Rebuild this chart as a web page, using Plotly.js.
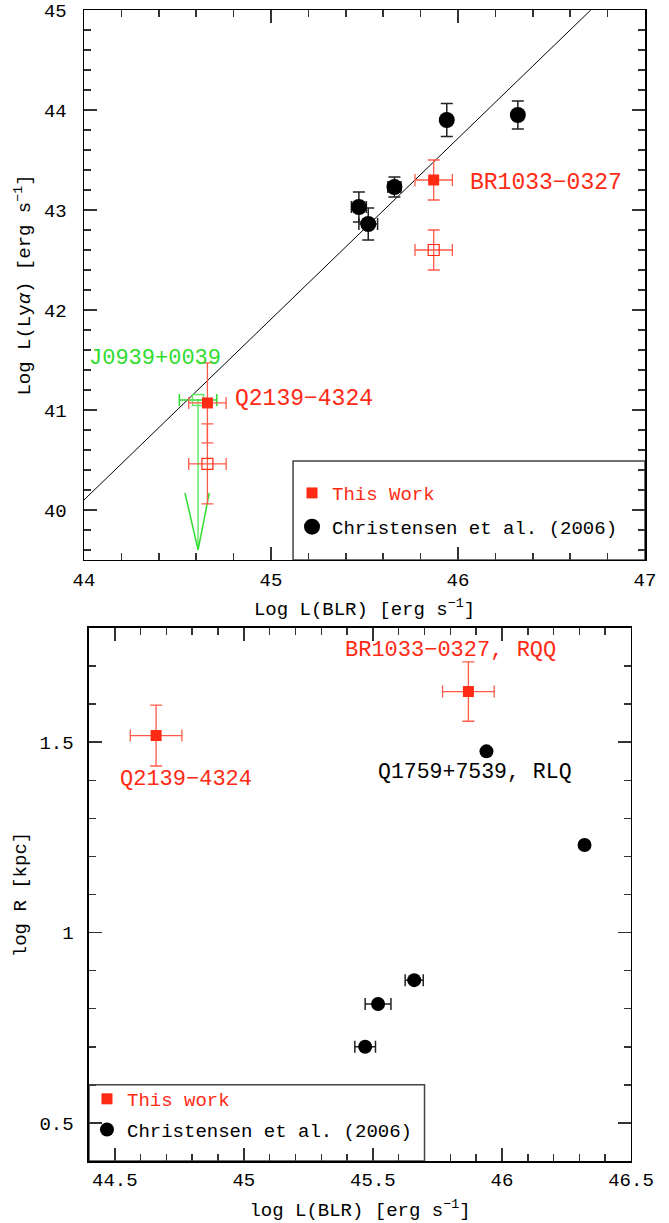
<!DOCTYPE html>
<html>
<head>
<meta charset="utf-8">
<script src="https://cdn.plot.ly/plotly-3.0.1.min.js"></script>
<style>html,body{margin:0;padding:0;background:#fff;}</style>
</head>
<body>
<div id="chart" style="width:669px;height:1223px;"></div>
<script>
// ---------------- data ----------------
// Christensen et al. (2006)
const chrLogLBLR    = [45.47, 45.52, 45.66, 45.94, 46.32];
const chrLogLBLRErr = [0.04, 0.05, 0.035, 0, 0];
const chrLogLLya    = [43.03, 42.86, 43.23, 43.90, 43.95];
const chrLogLLyaErr = [0.15, 0.16, 0.10, 0.165, 0.14];
const chrLogR       = [0.70, 0.8125, 0.875, 1.476, 1.23];

// This work
const thisNames        = ["Q2139−4324", "BR1033−0327"];
const thisLogLBLR      = [44.66, 45.87];
const thisLogLBLRErr   = [0.1, 0.1];
const thisLogLLya      = [41.07, 43.30];
const thisLogLLyaErr   = [0.4, 0.2];
const thisLogLLyaAlt   = [40.46, 42.60];
const thisLogLLyaAltErr= [0.4, 0.2];
const thisLogR         = [1.5175, 1.633];
const thisLogRErr      = [0.08, 0.078];

// Upper limit
const limName      = "J0939+0039";
const limLogLBLR   = [44.61];
const limLogLBLRErr= [0.1];
const limLogLLya   = [41.1];

// Fitted relation (end points)
const fitLogLBLR = [44.0, 46.71];
const fitLogLLya = [40.1, 45.0];

// Radio-loud quasar label
const rlqName = "Q1759+7539, RLQ";

// ---------------- styles ----------------
const FONT = "Liberation Mono, Courier New, monospace";
const RED = "#ff2a14";
const RED_ERR = "#ff5a48";
const GREEN = "#2edc2e";
const GREEN_LIGHT = "#66ea66";
const ARROW_LEN = 1.5, HEAD_L = 0.07, HEAD_R = 0.06, HEAD_H = 0.57;

const limX = limLogLBLR[0], limY = limLogLLya[0], tipY = limY - ARROW_LEN;

const traces = [
  // fit line
  {type:"scatter", mode:"lines", x:fitLogLBLR, y:fitLogLLya, xaxis:"x", yaxis:"y",
   line:{color:"#000", width:1}, showlegend:false, hoverinfo:"skip"},
  // upper-limit arrow shaft
  {type:"scatter", mode:"lines", x:[limX, limX], y:[limY, tipY], xaxis:"x", yaxis:"y",
   line:{color:GREEN_LIGHT, width:1.5}, showlegend:false, hoverinfo:"skip"},
  // arrow head
  {type:"scatter", mode:"lines", x:[limX - HEAD_L, limX, limX + HEAD_R], y:[tipY + HEAD_H, tipY, tipY + HEAD_H],
   xaxis:"x", yaxis:"y", line:{color:GREEN, width:1.5}, showlegend:false, hoverinfo:"skip"},
  // upper-limit point
  {type:"scatter", mode:"markers", x:limLogLBLR, y:limLogLLya, xaxis:"x", yaxis:"y",
   marker:{symbol:"square-open", size:11, color:GREEN_LIGHT, line:{width:1.5}},
   error_x:{type:"data", array:limLogLBLRErr, color:GREEN, thickness:1.5, width:6},
   showlegend:false},
  // this work, open squares
  {type:"scatter", mode:"markers", x:thisLogLBLR, y:thisLogLLyaAlt, xaxis:"x", yaxis:"y",
   marker:{symbol:"square-open", size:11, color:RED, line:{width:1.2}},
   error_x:{type:"data", array:thisLogLBLRErr, color:RED_ERR, thickness:1.3, width:6},
   error_y:{type:"data", array:thisLogLLyaAltErr, color:RED_ERR, thickness:1.3, width:6},
   showlegend:false},
  // this work, filled squares
  {type:"scatter", mode:"markers", x:thisLogLBLR, y:thisLogLLya, xaxis:"x", yaxis:"y",
   name:'<span style="color:' + RED + '">This Work</span>', legend:"legend", legendgroup:"a",
   marker:{symbol:"square", size:11, color:RED},
   error_x:{type:"data", array:thisLogLBLRErr, color:RED_ERR, thickness:1.3, width:6},
   error_y:{type:"data", array:thisLogLLyaErr, color:RED_ERR, thickness:1.3, width:6}},
  // Christensen
  {type:"scatter", mode:"markers", x:chrLogLBLR, y:chrLogLLya, xaxis:"x", yaxis:"y",
   name:"Christensen et al. (2006)", legend:"legend", legendgroup:"b",
   marker:{symbol:"circle", size:16, color:"#000"},
   error_x:{type:"data", array:chrLogLBLRErr, color:"#222", thickness:1.5, width:6},
   error_y:{type:"data", array:chrLogLLyaErr, color:"#222", thickness:1.5, width:6}},

  // ---------- bottom panel ----------
  {type:"scatter", mode:"markers", x:thisLogLBLR, y:thisLogR, xaxis:"x2", yaxis:"y2",
   name:'<span style="color:' + RED + '">This work</span>', legend:"legend2", legendgroup:"c",
   marker:{symbol:"square", size:11, color:RED},
   error_x:{type:"data", array:thisLogLBLRErr, color:RED_ERR, thickness:1.3, width:6},
   error_y:{type:"data", array:thisLogRErr, color:RED_ERR, thickness:1.3, width:6}},
  {type:"scatter", mode:"markers", x:chrLogLBLR, y:chrLogR, xaxis:"x2", yaxis:"y2",
   name:"Christensen et al. (2006)", legend:"legend2", legendgroup:"d",
   marker:{symbol:"circle", size:14, color:"#000"},
   error_x:{type:"data", array:chrLogLBLRErr, color:"#222", thickness:1.5, width:6}}
];

function axisCommon(extra) {
  return Object.assign({
    ticks:"inside", ticklen:13, tickwidth:1.5, tickcolor:"#333",
    showline:true, linecolor:"#000", linewidth:1.5, mirror:"allticks",
    showgrid:false, zeroline:false, tickmode:"linear",
    tickfont:{family:FONT, size:19, color:"#000"},
    automargin:false
  }, extra);
}

const layout = {
  width:669, height:1223,
  margin:{l:84, r:24, t:10, b:62},
  paper_bgcolor:"#fff", plot_bgcolor:"#fff",
  font:{family:FONT, size:19, color:"#000"},
  showlegend:true,
  xaxis: axisCommon({domain:[0,1], anchor:"y", range:[44,47], tick0:44, dtick:1,
    minor:{dtick:0.2, ticklen:7, tickwidth:1.5, tickcolor:"#333", ticks:"inside"},
    ticklabelstandoff:2,
    title:{text:"Log L(BLR) [erg s<sup>−1</sup>]", standoff:10, font:{family:FONT, size:19}}}),
  yaxis: axisCommon({domain:[0.5222,1], anchor:"x", range:[39.5,45], tick0:40, dtick:1,
    minor:{dtick:0.2, ticklen:7, tickwidth:1.5, tickcolor:"#333", ticks:"inside"},
    ticklabelstandoff:12,
    title:{text:"Log L(Ly<i>α</i>) [erg s<sup>−1</sup>]", standoff:8, font:{family:FONT, size:19}}}),
  xaxis2: axisCommon({domain:[0.00891,0.97504], anchor:"y2", range:[44.4,46.5], tick0:44.5, dtick:0.5,
    minor:{dtick:0.1, ticklen:7, tickwidth:1.5, tickcolor:"#333", ticks:"inside"},
    ticklabelstandoff:1,
    title:{text:"log L(BLR) [erg s<sup>−1</sup>]", standoff:11, font:{family:FONT, size:19}}}),
  yaxis2: axisCommon({domain:[0,0.4631], anchor:"x2", range:[0.4,1.8], tick0:0.5, dtick:0.5,
    minor:{dtick:0.1, ticklen:7, tickwidth:1.5, tickcolor:"#333", ticks:"inside"},
    ticklabelstandoff:10,
    title:{text:"log R [kpc]", standoff:8, font:{family:FONT, size:19}}}),
  legend:{x:0.3708, y:0.5968, xanchor:"left", yanchor:"top", bgcolor:"rgba(0,0,0,0)",
    borderwidth:0, font:{family:FONT, size:19, color:"#000"}, tracegroupgap:6, traceorder:"grouped"},
  legend2:{x:0.0053, y:0.0704, xanchor:"left", yanchor:"top", bgcolor:"rgba(0,0,0,0)",
    borderwidth:0, font:{family:FONT, size:19, color:"#000"}, tracegroupgap:3, traceorder:"grouped"},
  shapes:[
    {type:"rect", xref:"x", yref:"y", x0:45.118, x1:47, y0:39.5, y1:40.49,
     line:{color:"#444", width:1.5}, fillcolor:"rgba(0,0,0,0)", layer:"above"},
    {type:"rect", xref:"x2", yref:"y2", x0:44.4, x1:45.70, y0:0.4, y1:0.6,
     line:{color:"#444", width:1.5}, fillcolor:"rgba(0,0,0,0)", layer:"above"}
  ],
  annotations:[
    {xref:"x", yref:"y", x:thisLogLBLR[1], y:thisLogLLya[1], text:thisNames[1], showarrow:false,
     xanchor:"left", yanchor:"middle", xshift:34, yshift:-3, font:{family:FONT, size:23, color:RED}},
    {xref:"x", yref:"y", x:thisLogLBLR[0], y:thisLogLLya[0], text:thisNames[0], showarrow:false,
     xanchor:"left", yanchor:"middle", xshift:26, yshift:4, font:{family:FONT, size:23, color:RED}},
    {xref:"x", yref:"y", x:limLogLBLR[0], y:limLogLLya[0], text:limName, showarrow:false,
     xanchor:"center", yanchor:"middle", xshift:-43, yshift:41, font:{family:FONT, size:22, color:GREEN}},
    {xref:"x2", yref:"y2", x:thisLogLBLR[1], y:thisLogR[1], text:thisNames[1] + ", RQQ", showarrow:false,
     xanchor:"center", yanchor:"middle", xshift:-18, yshift:41, font:{family:FONT, size:22, color:RED}},
    {xref:"x2", yref:"y2", x:thisLogLBLR[0], y:thisLogR[0], text:thisNames[0], showarrow:false,
     xanchor:"center", yanchor:"middle", xshift:30, yshift:-44, font:{family:FONT, size:22, color:RED}},
    {xref:"x2", yref:"y2", x:chrLogLBLR[3], y:chrLogR[3], text:rlqName, showarrow:false,
     xanchor:"center", yanchor:"middle", xshift:-11, yshift:-21, font:{family:FONT, size:21.5, color:"#000"}}
  ]
};

Plotly.newPlot("chart", traces, layout, {displayModeBar:false, staticPlot:true});
</script>
</body>
</html>
